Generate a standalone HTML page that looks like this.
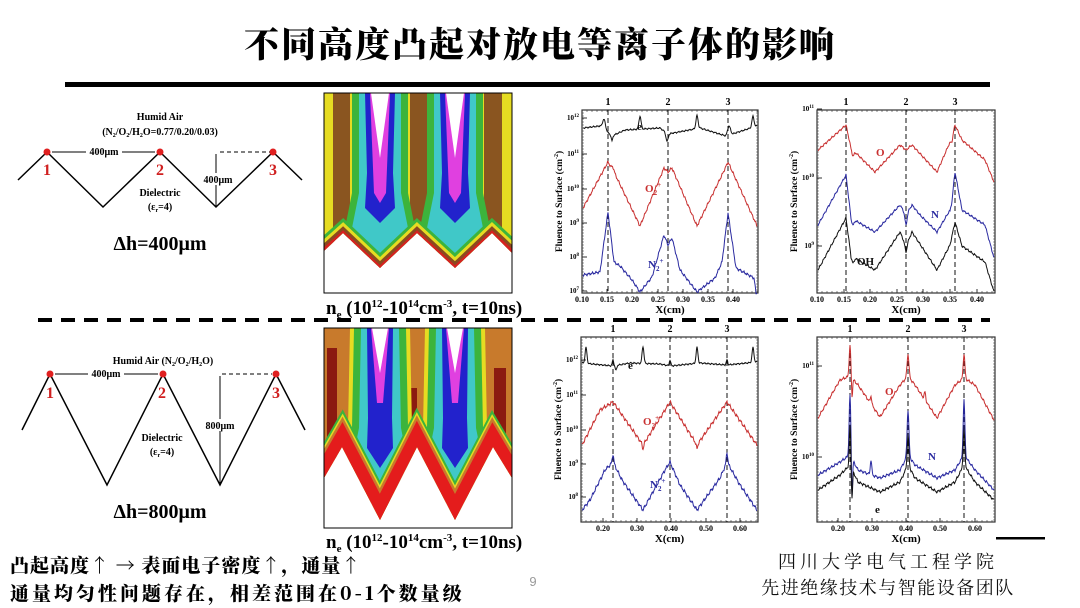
<!DOCTYPE html>
<html><head><meta charset="utf-8">
<style>
html,body{margin:0;padding:0;background:#fff;}
svg{display:block;}
.t{font-family:"Liberation Serif","Noto Serif CJK SC",serif;font-weight:bold;}
</style></head>
<body>
<svg id="s" width="1080" height="608" viewBox="0 0 1080 608" xmlns="http://www.w3.org/2000/svg">
<rect width="1080" height="608" fill="#fff"/>
<text x="540" y="57" text-anchor="middle" font-family="'Noto Serif CJK SC','Liberation Serif',serif" font-weight="900" font-size="35" letter-spacing="2">不同高度凸起对放电等离子体的影响</text>
<rect x="65" y="82" width="925" height="5" fill="#000"/>
<line x1="38" y1="320" x2="990" y2="320" stroke="#000" stroke-width="4" stroke-dasharray="14,9"/>

<g class="t" fill="#000">
<polyline points="18,180 47,152 103,207 160,152 216,207 273,152 302,180" fill="none" stroke="#000" stroke-width="1.5"/>
<circle cx="47" cy="152" r="3.5" fill="#e02020"/><circle cx="160" cy="152" r="3.5" fill="#e02020"/><circle cx="273" cy="152" r="3.5" fill="#e02020"/>
<text x="47" y="175" fill="#d02020" font-size="16" text-anchor="middle">1</text>
<text x="160" y="175" fill="#d02020" font-size="16" text-anchor="middle">2</text>
<text x="273" y="175" fill="#d02020" font-size="16" text-anchor="middle">3</text>
<text x="160" y="120" font-size="10" text-anchor="middle">Humid Air</text>
<text x="160" y="135" font-size="10" text-anchor="middle">(N<tspan font-size="6" dy="2">2</tspan><tspan dy="-2">/O</tspan><tspan font-size="6" dy="2">2</tspan><tspan dy="-2">/H</tspan><tspan font-size="6" dy="2">2</tspan><tspan dy="-2">O=0.77/0.20/0.03)</tspan></text>
<line x1="52" y1="152" x2="155" y2="152" stroke="#000" stroke-width="1"/>
<rect x="86" y="146" width="36" height="10" fill="#fff"/>
<text x="104" y="155" font-size="10" text-anchor="middle">400μm</text>
<line x1="220" y1="152" x2="270" y2="152" stroke="#000" stroke-dasharray="4,3"/>
<line x1="216" y1="154" x2="216" y2="206" stroke="#000"/>
<rect x="202" y="173" width="32" height="12" fill="#fff"/>
<text x="218" y="183" font-size="10" text-anchor="middle">400μm</text>
<text x="160" y="196" font-size="10" text-anchor="middle">Dielectric</text>
<text x="160" y="210" font-size="10" text-anchor="middle">(ε<tspan font-size="6" dy="2">r</tspan><tspan dy="-2">=4)</tspan></text>
<text x="160" y="250" font-size="20" text-anchor="middle">Δh=400μm</text>
</g>

<g class="t" fill="#000">
<polyline points="22,430 50,374 107,485 163,374 220,485 276,374 305,430" fill="none" stroke="#000" stroke-width="1.5"/>
<circle cx="50" cy="374" r="3.5" fill="#e02020"/><circle cx="163" cy="374" r="3.5" fill="#e02020"/><circle cx="276" cy="374" r="3.5" fill="#e02020"/>
<text x="50" y="398" fill="#d02020" font-size="16" text-anchor="middle">1</text>
<text x="162" y="398" fill="#d02020" font-size="16" text-anchor="middle">2</text>
<text x="276" y="398" fill="#d02020" font-size="16" text-anchor="middle">3</text>
<text x="163" y="364" font-size="10" text-anchor="middle">Humid Air (N<tspan font-size="6" dy="2">2</tspan><tspan dy="-2">/O</tspan><tspan font-size="6" dy="2">2</tspan><tspan dy="-2">/H</tspan><tspan font-size="6" dy="2">2</tspan><tspan dy="-2">O)</tspan></text>
<line x1="55" y1="374" x2="158" y2="374" stroke="#000"/>
<rect x="88" y="368" width="36" height="10" fill="#fff"/>
<text x="106" y="377" font-size="10" text-anchor="middle">400μm</text>
<line x1="222" y1="374" x2="272" y2="374" stroke="#000" stroke-dasharray="4,3"/>
<line x1="220" y1="376" x2="220" y2="484" stroke="#000"/>
<rect x="203" y="419" width="34" height="12" fill="#fff"/>
<text x="220" y="429" font-size="10" text-anchor="middle">800μm</text>
<text x="162" y="441" font-size="10" text-anchor="middle">Dielectric</text>
<text x="162" y="455" font-size="10" text-anchor="middle">(ε<tspan font-size="6" dy="2">r</tspan><tspan dy="-2">=4)</tspan></text>
<text x="160" y="518" font-size="20" text-anchor="middle">Δh=800μm</text>
</g>

<defs>
<clipPath id="c1"><polygon points="0,0 188,0 188,160 168,140 131,175 93,140 56,175 19,140 0,158"/></clipPath>
<clipPath id="c2"><polygon points="0,0 188,0 188,150 169,119 131,192 93,119 56,192 18,119 0,150"/></clipPath>
<g id="pl1">
<polygon points="-28,0 28,0 28,100 38,150 0,178 -38,150 -28,100" fill="#3cb43c"/>
<polygon points="-21,0 21,0 21,100 29,140 0,165 -29,140 -21,100" fill="#40c8c8"/>
<polygon points="-15,0 15,0 13,80 15,115 0,130 -15,115 -13,80" fill="#2222cc"/>
<polygon points="-10,0 10,0 6,100 0,110 -6,100" fill="#e040e0"/>
<polygon points="-9,0 9,0 0,65" fill="#fff"/>
</g>
<g id="pl2">
<polygon points="-30,0 30,0 32,100 42,150 0,200 -42,150 -32,100" fill="#e6dc22"/>
<polygon points="-26,0 26,0 28,100 36,145 0,190 -36,145 -28,100" fill="#3cb43c"/>
<polygon points="-19,0 19,0 21,100 28,135 0,178 -28,135 -21,100" fill="#40c8c8"/>
<polygon points="-13,0 13,0 12,90 13,120 0,140 -13,120 -12,90" fill="#2222cc"/>
<polygon points="-9,0 9,0 3,75 -3,75" fill="#e040e0"/>
<polygon points="-8,0 8,0 0,45" fill="#fff"/>
</g>
</defs>
<g transform="translate(324,93)">
<g clip-path="url(#c1)">
<rect width="188" height="200" fill="#e6dc22"/>
<rect x="9" width="17" height="200" fill="#8a5520"/>
<rect x="86" width="20" height="200" fill="#8a5520"/>
<rect x="160" width="18" height="200" fill="#8a5520"/>
<use href="#pl1" x="56"/><use href="#pl1" x="131"/>
<polyline points="-10,166 19,140 56,175 93,140 131,175 168,140 198,168" fill="none" stroke="#3cb43c" stroke-width="22"/>
<polyline points="-10,166 19,140 56,175 93,140 131,175 168,140 198,168" fill="none" stroke="#e6dc22" stroke-width="16"/>
<polyline points="-10,166 19,140 56,175 93,140 131,175 168,140 198,168" fill="none" stroke="#8a4a20" stroke-width="10"/>
<polyline points="-10,166 19,140 56,175 93,140 131,175 168,140 198,168" fill="none" stroke="#d82020" stroke-width="4"/>
</g>
<rect x="0" y="0" width="188" height="200" fill="none" stroke="#000" stroke-width="1"/>
</g>

<g transform="translate(324,328)">
<g clip-path="url(#c2)">
<rect width="188" height="200" fill="#c87a2c"/>
<rect x="3" y="20" width="10" height="110" fill="#8b1a10"/>
<rect x="85" y="60" width="8" height="70" fill="#8b1a10"/>
<rect x="170" y="40" width="12" height="90" fill="#8b1a10"/>
<use href="#pl2" x="56"/><use href="#pl2" x="131"/>
<polyline points="-10,168 18,119 56,192 93,119 131,192 169,119 198,168" fill="none" stroke="#3cb43c" stroke-width="36"/>
<polyline points="-10,168 18,119 56,192 93,119 131,192 169,119 198,168" fill="none" stroke="#e6dc22" stroke-width="32"/>
<polyline points="-10,168 18,119 56,192 93,119 131,192 169,119 198,168" fill="none" stroke="#c87a2c" stroke-width="29"/>
<polyline points="-10,168 18,119 56,192 93,119 131,192 169,119 198,168" fill="none" stroke="#e41c1c" stroke-width="24"/>
</g>
<rect x="0" y="0" width="188" height="200" fill="none" stroke="#000" stroke-width="1"/>
</g>

<g class="t" font-size="19">
<text x="326" y="314">n<tspan font-size="11" dy="4">e</tspan><tspan dy="-4"> (10</tspan><tspan font-size="11" dy="-7">12</tspan><tspan dy="7">-10</tspan><tspan font-size="11" dy="-7">14</tspan><tspan dy="7">cm</tspan><tspan font-size="11" dy="-7">-3</tspan><tspan dy="7">, t=10ns)</tspan></text>
<text x="326" y="548">n<tspan font-size="11" dy="4">e</tspan><tspan dy="-4"> (10</tspan><tspan font-size="11" dy="-7">12</tspan><tspan dy="7">-10</tspan><tspan font-size="11" dy="-7">14</tspan><tspan dy="7">cm</tspan><tspan font-size="11" dy="-7">-3</tspan><tspan dy="7">, t=10ns)</tspan></text>
</g>

<g font-family="'Noto Serif CJK SC','Liberation Serif',serif" font-weight="900" font-size="19">
<text x="10" y="572" letter-spacing="1">凸起高度↑ → 表面电子密度↑，通量↑</text>
<text x="10" y="600" letter-spacing="3">通量均匀性问题存在，相差范围在0-1个数量级</text>
</g>
<text x="533" y="586" font-family="'Liberation Sans',sans-serif" font-size="13" fill="#999" text-anchor="middle">9</text>
<g font-family="'Noto Serif CJK SC','Liberation Serif',serif" font-size="18" text-anchor="middle" fill="#111">
<text x="888" y="568" letter-spacing="4">四川大学电气工程学院</text>
<text x="888" y="594" letter-spacing="1.5">先进绝缘技术与智能设备团队</text>
</g>
<rect x="996" y="537" width="49" height="2.5" fill="#000"/>
<g id="charts"></g>
</svg>
<script>
var NS="http://www.w3.org/2000/svg",G=document.getElementById("charts");
function el(t,a,txt){var e=document.createElementNS(NS,t);for(var k in a)e.setAttribute(k,a[k]);if(txt!=null)e.textContent=txt;G.appendChild(e);return e;}
function interp(k,x){if(x<=k[0][0])return k[0][1];for(var i=1;i<k.length;i++){if(x<=k[i][0]){var a=k[i-1],b=k[i];return a[1]+(b[1]-a[1])*(x-a[0])/(b[0]-a[0]);}}return k[k.length-1][1];}
function curve(x0,x1,keys,spk,nz,col,seed){var d="";for(var x=x0;x<=x1;x+=0.5){var y=interp(keys,x);for(var i=0;i<spk.length;i++){var s=spk[i];y+=s[1]*Math.exp(-Math.pow((x-s[0])/s[2],2));}y+=nz*(Math.sin(x*1.7+seed)*0.6+Math.sin(x*3.9+seed*2)*0.4);d+=(d?"L":"M")+x.toFixed(1)+","+y.toFixed(1);}el("path",{d:d,fill:"none",stroke:col,"stroke-width":1});}
function frame(c){var x0=c.x0,x1=c.x1,y0=c.y0,y1=c.y1;
 el("rect",{x:x0,y:y0,width:x1-x0,height:y1-y0,fill:"none",stroke:"#333","stroke-width":1.2});
 for(var x=x0;x<x1;x+=c.mt){el("line",{x1:x,y1:y1,x2:x,y2:y1-2,stroke:"#333","stroke-width":0.6});el("line",{x1:x,y1:y0,x2:x,y2:y0+2,stroke:"#333","stroke-width":0.6});}
 for(var y=y0;y<y1;y+=3){el("line",{x1:x0,y1:y,x2:x0+2,y2:y,stroke:"#333","stroke-width":0.5});el("line",{x1:x1,y1:y,x2:x1-2,y2:y,stroke:"#333","stroke-width":0.5});}
 c.xt.forEach(function(t){el("line",{x1:t[0],y1:y1,x2:t[0],y2:y1-4,stroke:"#333"});el("text",{x:t[0],y:y1+9,"font-size":8,"text-anchor":"middle","class":"t"},t[1]);});
 c.yt.forEach(function(t){el("line",{x1:x0,y1:t[0],x2:x0+5,y2:t[0],stroke:"#333"});var e=el("text",{x:x0-3,y:t[0]+2,"font-size":7,"text-anchor":"end","class":"t"});e.innerHTML="10<tspan font-size='5' dy='-3'>"+t[1]+"</tspan>";});
 c.dl.forEach(function(x,i){el("line",{x1:x,y1:y0,x2:x,y2:y1,stroke:"#111","stroke-dasharray":"5,3","stroke-width":1});el("text",{x:x,y:y0-5,"font-size":10,"text-anchor":"middle","class":"t"},String(i+1));});
 el("text",{x:(x0+x1)/2,y:y1+20,"font-size":11,"text-anchor":"middle","class":"t"},"X(cm)");
 var yl=el("text",{x:0,y:0,"font-size":9.5,"text-anchor":"middle","class":"t",transform:"translate("+(x0-20)+","+((y0+y1)/2)+") rotate(-90)"});yl.innerHTML="Fluence to Surface (cm<tspan font-size='6' dy='-4'>-2</tspan><tspan dy='4'>)</tspan>";
}
function lab(x,y,t,col,sub,sup){var e=el("text",{x:x,y:y,"font-size":11,fill:col,"class":"t"});e.innerHTML=t+(sub?"<tspan font-size='7' dy='3'>"+sub+"</tspan>":"")+(sup?"<tspan font-size='7' dy='-8'>"+sup+"</tspan>":"");}
var K="#111",R="#c83030",B="#2a2aa0";
frame({x0:582,x1:758,y0:110,y1:293,mt:5,xt:[[582,"0.10"],[607,"0.15"],[632,"0.20"],[658,"0.25"],[683,"0.30"],[708,"0.35"],[733,"0.40"]],yt:[[118,12],[154,11],[189,10],[223,9],[257,8],[291,7]],dl:[608,668,728]});
curve(583,757,[[583,128],[600,126],[612,136],[625,130],[660,128],[668,134],[700,128],[726,136],[757,126]],[[604,-10,2],[640,-13,1.5],[697,-13,1.5],[729,-9,2],[753,-11,1.5],[667,8,1.5],[612,5,1]],0.8,K,1);
curve(583,757,[[583,208],[608,162],[614,172],[640,226],[664,168],[668,172],[672,168],[697,226],[722,175],[728,162],[758,228]],[[613,-3,1.5]],1.5,R,2);
curve(583,757,[[583,275],[600,272],[608,212],[614,262],[620,266],[632,280],[640,292],[652,277],[664,235],[668,245],[672,238],[680,270],[697,292],[715,278],[722,262],[728,213],[736,268],[754,278],[756,293]],[],1.5,B,3);
lab(637,130,"e",K);lab(645,192,"O",R,"2","+");lab(648,268,"N",B,"2","+");
frame({x0:817,x1:995,y0:110,y1:293,mt:5,xt:[[817,"0.10"],[844,"0.15"],[870,"0.20"],[897,"0.25"],[923,"0.30"],[950,"0.35"],[977,"0.40"]],yt:[[109,11],[178,10],[246,9]],dl:[846,906,955]});
curve(818,994,[[818,150],[846,125],[851,148],[875,172],[900,145],[906,150],[912,145],[937,172],[950,142],[955,125],[962,140],[985,160],[994,182]],[[853,6,1.5],[952,6,1.5]],1.2,R,4);
curve(818,994,[[818,225],[846,175],[851,218],[875,232],[900,205],[906,215],[912,205],[920,215],[937,232],[950,210],[955,172],[962,210],[985,225],[994,258]],[[853,6,1.5],[906,10,1.5],[952,6,1.5]],1.2,B,5);
curve(818,994,[[818,270],[846,218],[851,256],[875,270],[900,232],[906,246],[912,232],[937,270],[950,245],[955,222],[962,246],[985,262],[994,292]],[[853,6,1.5],[906,6,1.5]],1.2,K,6);
lab(876,156,"O",R);lab(931,218,"N",B);lab(857,265,"OH",K);
frame({x0:581,x1:758,y0:337,y1:522,mt:5,xt:[[603,"0.20"],[637,"0.30"],[671,"0.40"],[706,"0.50"],[740,"0.60"]],yt:[[360,12],[395,11],[430,10],[464,9],[497,8]],dl:[613,670,727]});
curve(582,757,[[582,363],[613,366],[630,363],[660,364],[670,366],[700,363],[727,365],[757,362]],[[586,-16,1.3],[643,-17,1.3],[697,-16,1.3],[753,-15,1.3],[613,-6,1],[670,-6,1],[727,-5,1],[616,5,1]],0.8,K,7);
curve(582,757,[[582,445],[600,410],[613,402],[643,445],[665,410],[670,402],[697,445],[720,412],[727,402],[757,445]],[[643,4,1],[697,4,1]],2,R,8);
curve(582,757,[[582,510],[590,500],[605,470],[613,462],[622,480],[643,510],[665,470],[670,462],[680,485],[697,510],[720,478],[727,462],[740,485],[757,510]],[[613,-8,1],[727,-10,1]],2,B,9);
lab(628,369,"e",K);lab(643,425,"O",R,"2","+");lab(650,488,"N",B,"2","+");
frame({x0:817,x1:995,y0:337,y1:522,mt:5,xt:[[838,"0.20"],[872,"0.30"],[906,"0.40"],[940,"0.50"],[975,"0.60"]],yt:[[366,11],[457,10]],dl:[850,908,964]});
curve(818,994,[[818,418],[840,380],[850,376],[858,385],[880,417],[900,385],[908,376],[915,385],[937,418],[955,385],[964,378],[975,385],[994,420]],[[850,-30,1.2],[852,20,0.8],[908,-22,1.3],[964,-24,1.2],[871,-8,1],[925,-8,1]],1.5,R,10);
curve(818,994,[[818,475],[840,462],[850,455],[858,470],[880,478],[900,470],[908,455],[915,465],[937,478],[955,470],[964,455],[975,470],[994,490]],[[850,-60,1.2],[852,40,0.8],[908,-45,1.3],[964,-55,1.2],[871,-15,1]],1.5,B,11);
curve(818,994,[[818,490],[840,475],[850,465],[858,482],[880,492],[900,482],[908,465],[915,478],[937,492],[955,482],[964,465],[975,482],[994,500]],[[850,-40,1],[852,30,0.8],[908,-30,1.2],[964,-35,1.2]],1.5,K,12);
lab(885,395,"O",R);lab(928,460,"N",B);lab(875,513,"e",K);
</script>
</body></html>
